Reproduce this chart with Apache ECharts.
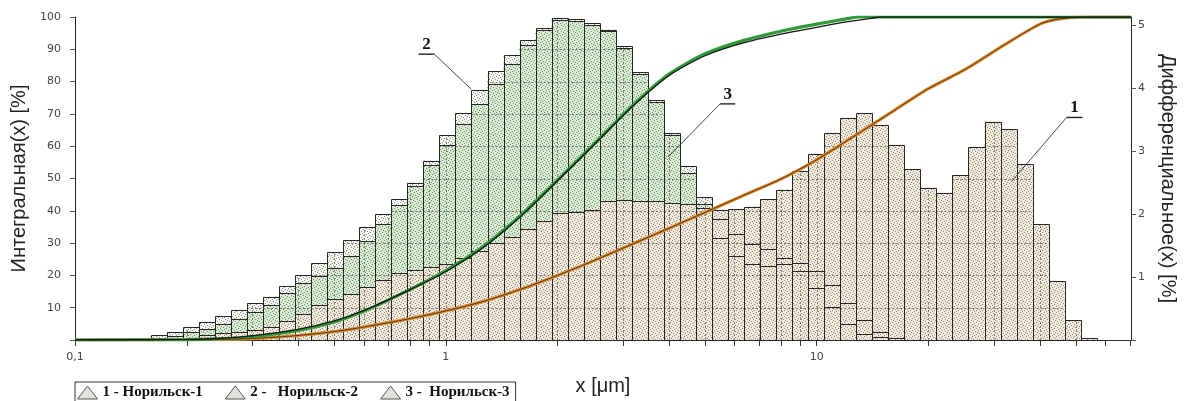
<!DOCTYPE html>
<html><head><meta charset="utf-8">
<script src="https://cdn.jsdelivr.net/npm/echarts@6/dist/echarts.min.js"></script>
<style>html,body{margin:0;padding:0;background:#fff}#c{width:1186px;height:401px}</style>
</head><body><div id="c"></div>
<script>
// ---------- DATA ----------
// histogram bin edges, µm (60 bins)
const binEdges = [0.1449,0.1601,0.1769,0.1954,0.2158,0.2384,0.2634,0.2909,0.3214,0.3550,
  0.3921,0.4332,0.4786,0.5287,0.5840,0.6451,0.7126,0.7872,0.8696,0.9608,
  1.0615,1.1725,1.2952,1.4308,1.5806,1.7460,1.9288,2.1307,2.3536,2.6000,
  2.8721,3.1727,3.5048,3.8717,4.2769,4.7246,5.2191,5.7654,6.3689,7.0355,
  7.7719,8.5854,9.4840,10.477,11.573,12.785,14.123,15.601,17.234,19.038,
  21.031,23.232,25.664,28.350,31.317,34.595,38.216,42.216,46.634,51.515,56.907];
// differential distribution, % per bin (right axis)
const diff1 = [0,0,0,0.02,0.08,0.11,0.12,0.16,0.21,0.30,
  0.42,0.56,0.65,0.73,0.84,0.95,1.06,1.11,1.16,1.20,
  1.30,1.42,1.54,1.64,1.76,1.89,2.01,2.04,2.07,2.20,
  2.22,2.21,2.21,2.18,2.16,2.09,2.07,2.08,2.12,2.24,
  2.39,2.69,2.96,3.29,3.53,3.60,3.42,3.10,2.71,2.42,
  2.34,2.62,3.07,3.47,3.35,2.79,1.84,0.93,0.31,0.03];
const diff2 = [0.02,0.08,0.13,0.21,0.29,0.38,0.48,0.58,0.69,0.86,
  1.03,1.22,1.39,1.59,1.80,2.00,2.24,2.50,2.85,3.25,
  3.61,3.97,4.27,4.53,4.76,4.95,5.12,5.10,5.03,4.93,
  4.67,4.25,3.81,3.29,2.76,2.27,1.62,1.34,1.21,1.17,
  1.21,1.10,0.82,0.52,0.26,0.10,0.05,0,0,0,
  0,0,0,0,0,0,0,0,0,0];
const diff3 = [0,0.03,0.06,0.12,0.17,0.25,0.34,0.45,0.56,0.74,
  0.90,1.02,1.15,1.34,1.57,1.85,2.14,2.45,2.78,3.10,
  3.43,3.75,4.07,4.39,4.68,4.92,5.08,5.06,5.00,4.90,
  4.63,4.22,3.78,3.25,2.65,2.16,1.92,1.68,1.53,1.44,
  1.30,1.22,1.10,0.88,0.59,0.32,0.12,0.03,0,0,
  0,0,0,0,0,0,0,0,0,0];
// integral (cumulative) curves, % (left axis)
const cum1X = [0.1,0.2,0.25,0.3,0.4,0.5,0.6,0.8,1,1.25,1.6,2,2.5,3.2,4,5,6.3,8,10,12.5,16,20,25,32,40,45,50,55,70.4];
const cum1Y = [0,0.05,0.2,0.45,1.4,2.6,4.0,6.6,9.0,11.8,15.8,20.0,24.5,29.8,34.6,39.5,44.6,49.8,55.8,62.8,70.7,77.8,83.6,91.3,97.8,99.4,99.9,100,100];
const cum2X = [0.1,0.2,0.25,0.3,0.4,0.5,0.6,0.8,1,1.25,1.6,2,2.5,3.2,4,5,6.3,8,10,12,13,70.4];
const cum2Y = [0,0.1,0.4,1.0,3.0,5.6,8.9,15.6,21.5,28.6,38.8,49.5,60.5,72.8,82.3,88.6,92.6,95.6,97.8,99.4,100,100];
const cum3X = [0.1,0.2,0.25,0.3,0.4,0.5,0.6,0.8,1,1.25,1.6,2,2.5,3.2,4,5,6.3,8,10,12,14,15,70.4];
const cum3Y = [0,0.2,0.6,1.3,3.3,5.9,9.1,15.6,21.2,28.3,38.5,49.3,60.2,72.5,81.9,88.0,91.9,94.7,96.8,98.5,99.6,100,100];
const sampleNames = ['1 - Норильск-1', '2 -   Норильск-2', '3 -  Норильск-3'];
const xMinorTicks = [0.2,0.3,0.4,0.5,0.6,0.7,0.8,0.9,2,3,4,5,6,7,8,9,20,30,40,50,60,70];
const xGridTicks = [0.2,0.3,0.4,0.5,0.6,0.7,0.8,0.9,1,2,3,4,5,6,7,8,9,10,20,30,40,50,60,70];
const leftGridLevels = [10,20,30,40,50,60,70,80,90];
// leader annotations: [underline from x, to x, at %, pointer x, pointer %]
const leaderLabels = ['2', '3', '1'];
const leaderData = [[0.844,0.931,88.5,1.17,77.7],[5.49,6.03,73.1,3.98,56.7],[47.2,52.1,68.9,33.6,49.2]];

const X_MIN = 0.1, X_MAX = 70.4, RIGHT_MAX = 5.13;

// ---------- RENDER ----------
function makePattern(base, dot) {
  const c = document.createElement('canvas'); c.width = 6; c.height = 6;
  const g = c.getContext('2d'); g.fillStyle = base; g.fillRect(0, 0, 6, 6);
  g.fillStyle = dot;
  [[0,0],[3,1],[1,3],[4,4],[5,2],[2,5]].forEach(p => g.fillRect(p[0], p[1], 1, 1));
  return { image: c, repeat: 'repeat' };
}
const fill1 = makePattern('#f1e9dc', '#948a7a');
const fill2 = makePattern('#f7f7f3', '#8c8c8c');
const fill3 = makePattern('#d9ebd3', '#72906c');

const crisp = v => Math.round(v) + 0.5;

function rowsFor(vals) { return vals.map((v, i) => [binEdges[i], binEdges[i + 1], v]); }
function fillRender(pattern) {
  return function (params, api) {
    const lo = api.value(0), hi = api.value(1), v = api.value(2);
    if (!(v > 0)) return;
    const p = api.coord([lo, v]); const q = api.coord([hi, 0]);
    return { type: 'rect', shape: { x: p[0], y: p[1], width: q[0] - p[0], height: q[1] - p[1] }, style: { fill: pattern } };
  };
}
function outlineRender(params, api) {
  const lo = api.value(0), hi = api.value(1);
  const vals = [api.value(2), api.value(3), api.value(4)];
  const H = Math.max.apply(null, vals);
  if (!(H > 0)) return;
  const base = api.coord([lo, 0]), right = api.coord([hi, 0]);
  const ch = [];
  leftGridLevels.forEach(L => {
    const v = L / 100 * RIGHT_MAX;
    if (v < H - 0.03) {
      const y = crisp(api.coord([lo, v])[1]);
      ch.push({ type: 'line', shape: { x1: base[0], y1: y, x2: right[0], y2: y }, style: { stroke: '#444', lineWidth: 1, lineDash: [2, 2], opacity: 0.7 } });
    }
  });
  xGridTicks.forEach(t => {
    if (t > lo && t < hi) {
      const x = crisp(api.coord([t, 0])[0]); const yt = api.coord([t, H])[1];
      ch.push({ type: 'line', shape: { x1: x, y1: base[1], x2: x, y2: yt }, style: { stroke: '#444', lineWidth: 1, lineDash: [2, 2], opacity: 0.6 } });
    }
  });
  vals.forEach(v => {
    if (v > 0) {
      const p = api.coord([lo, v]);
      const x0 = crisp(p[0]), x1 = crisp(right[0]), y0 = crisp(p[1]), y1 = crisp(base[1]);
      ch.push({ type: 'rect', shape: { x: x0, y: y0, width: x1 - x0, height: y1 - y0 }, style: { fill: 'none', stroke: '#262626', lineWidth: 1 } });
    }
  });
  return { type: 'group', children: ch };
}
function tickRender(params, api) {
  const p = api.coord([api.value(0), 0]);
  const x = crisp(p[0]);
  return { type: 'line', shape: { x1: x, y1: p[1], x2: x, y2: p[1] + 6 }, style: { stroke: '#333', lineWidth: 1 } };
}
function leaderRender(params, api) {
  const a = api.coord([api.value(0), api.value(2)]);
  const b = api.coord([api.value(1), api.value(2)]);
  const e = api.coord([api.value(3), api.value(4)]);
  const s = Math.abs(e[0] - a[0]) < Math.abs(e[0] - b[0]) ? a : b;
  return { type: 'group', children: [
    { type: 'line', shape: { x1: a[0], y1: a[1], x2: b[0], y2: b[1] }, style: { stroke: '#222', lineWidth: 1.4 } },
    { type: 'line', shape: { x1: s[0], y1: s[1], x2: e[0], y2: e[1] }, style: { stroke: '#333', lineWidth: 0.9 } },
    { type: 'text', style: { text: leaderLabels[params.dataIndex], x: (a[0] + b[0]) / 2, y: a[1] - 1, align: 'center', verticalAlign: 'bottom', font: 'bold 17px "Liberation Serif"', fill: '#111' } }
  ] };
}
const zip = (xs, ys) => xs.map((x, i) => [x, ys[i]]);
const lineBase = { type: 'line', xAxisIndex: 0, yAxisIndex: 0, showSymbol: false, symbol: 'none', smooth: 0.25, z: 5 };

const chart = echarts.init(document.getElementById('c'), null, { renderer: 'canvas' });
chart.setOption({
  animation: false,
  backgroundColor: '#fff',
  textStyle: { fontFamily: 'DejaVu Sans' },
  grid: { left: 75, right: 51, top: 17, bottom: 61 },
  legend: {
    left: 75, top: 382, orient: 'horizontal',
    itemWidth: 20, itemHeight: 13, itemGap: 22,
    borderColor: '#333', borderWidth: 1, padding: [3, 6, 3, 2],
    textStyle: { fontFamily: 'Liberation Serif', fontWeight: 'bold', fontSize: 15, color: '#111' },
    data: sampleNames.map(n => ({ name: n, icon: 'triangle', itemStyle: { color: '#e2e2dc', borderColor: '#555', borderWidth: 1 } }))
  },
  xAxis: [{
    type: 'log', logBase: 10, min: X_MIN, max: X_MAX, position: 'bottom',
    name: 'x [μm]', nameLocation: 'middle', nameGap: 36,
    nameTextStyle: { fontFamily: 'Liberation Sans', fontSize: 20, color: '#222' },
    axisLine: { lineStyle: { color: '#222', width: 1 } },
    axisTick: { show: true, length: 6, lineStyle: { color: '#333' } },
    axisLabel: { margin: 12, fontSize: 11, color: '#444', showMaxLabel: false,
      formatter: v => Math.abs(v - 0.1) < 1e-6 ? '0,1' : (Math.abs(v - 1) < 1e-6 ? '1' : (Math.abs(v - 10) < 1e-6 ? '10' : '')) },
    splitLine: { show: false }
  }, {
    type: 'log', logBase: 10, min: X_MIN, max: X_MAX, position: 'top',
    axisLine: { lineStyle: { color: '#333', width: 1, type: 'dotted' } },
    axisTick: { show: false }, axisLabel: { show: false }, splitLine: { show: false }
  }],
  yAxis: [{
    type: 'value', min: 0, max: 100, interval: 10, position: 'left',
    name: 'Интегральная(x) [%]', nameLocation: 'middle', nameGap: 43,
    nameTextStyle: { fontFamily: 'Liberation Sans', fontSize: 20, color: '#222' },
    axisLine: { show: true, lineStyle: { color: '#222' } },
    axisTick: { show: true, length: 5, lineStyle: { color: '#555' } },
    axisLabel: { margin: 14, fontSize: 11, color: '#444', formatter: v => v > 0 ? String(v) : '' },
    splitLine: { show: false }
  }, {
    type: 'value', min: 0, max: RIGHT_MAX, interval: 1, position: 'right',
    name: 'Дифференциальное(x) [%]', nameLocation: 'middle', nameGap: 27, nameRotate: -90,
    nameTextStyle: { fontFamily: 'Liberation Sans', fontSize: 20, color: '#222' },
    axisLine: { show: true, lineStyle: { color: '#222' } },
    axisTick: { show: true, length: 5, lineStyle: { color: '#555' } },
    axisLabel: { margin: 7, fontSize: 11, color: '#444', showMaxLabel: false,
      formatter: v => (v > 0.5 && Math.abs(v - Math.round(v)) < 1e-6) ? String(Math.round(v)) : '' },
    splitLine: { show: false }
  }],
  series: [
    { name: sampleNames[1], type: 'custom', xAxisIndex: 0, yAxisIndex: 1, renderItem: fillRender(fill2), data: rowsFor(diff2), encode: { x: [0, 1], y: 2 }, z: 2, silent: true },
    { name: sampleNames[2], type: 'custom', xAxisIndex: 0, yAxisIndex: 1, renderItem: fillRender(fill3), data: rowsFor(diff3), encode: { x: [0, 1], y: 2 }, z: 2, silent: true },
    { name: sampleNames[0], type: 'custom', xAxisIndex: 0, yAxisIndex: 1, renderItem: fillRender(fill1), data: rowsFor(diff1), encode: { x: [0, 1], y: 2 }, z: 2, silent: true },
    { name: 'outline', type: 'custom', xAxisIndex: 0, yAxisIndex: 1, renderItem: outlineRender,
      data: diff1.map((v, i) => [binEdges[i], binEdges[i + 1], v, diff2[i], diff3[i]]), encode: { x: [0, 1], y: [2, 3, 4] }, z: 3, silent: true },
    { name: 'ticks', type: 'custom', xAxisIndex: 0, yAxisIndex: 0, renderItem: tickRender, data: xMinorTicks.map(v => [v]), encode: { x: 0 }, z: 3, silent: true, clip: false },
    Object.assign({}, lineBase, { name: sampleNames[0], data: zip(cum1X, cum1Y), lineStyle: { color: '#dc8b2e', width: 3.2 } }),
    Object.assign({}, lineBase, { name: sampleNames[0], data: zip(cum1X, cum1Y), lineStyle: { color: '#5a3510', width: 1 }, z: 6 }),
    Object.assign({}, lineBase, { name: sampleNames[1], data: zip(cum2X, cum2Y), lineStyle: { color: '#2f9a3a', width: 3.2 } }),
    Object.assign({}, lineBase, { name: sampleNames[2], data: zip(cum3X, cum3Y), lineStyle: { color: '#151515', width: 1.3 }, z: 6 }),
    { name: 'leaders', type: 'custom', xAxisIndex: 0, yAxisIndex: 0, renderItem: leaderRender, data: leaderData, encode: { x: [0, 1, 3], y: [2, 4] }, z: 7, silent: true, clip: false }
  ]
});
</script>
</body></html>
